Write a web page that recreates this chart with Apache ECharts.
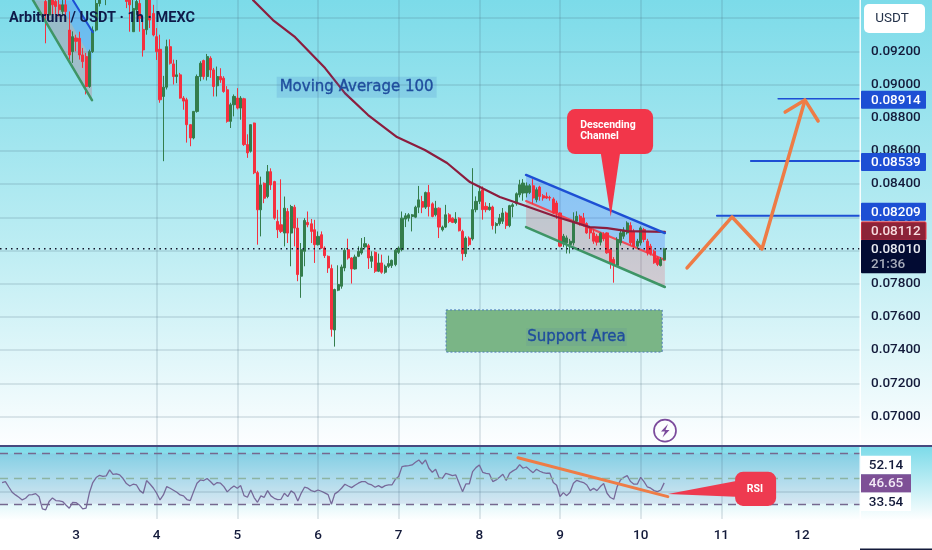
<!DOCTYPE html>
<html>
<head>
<meta charset="utf-8">
<script src="https://cdn.jsdelivr.net/npm/echarts@6/dist/echarts.min.js"></script>
<style>html,body{margin:0;padding:0;background:#fff}#c{width:932px;height:550px}</style>
</head>
<body>
<div id="c"></div>
<script>
// Prices are in units of 0.00001 USDT. Hours count from day 2, 00:00.
const firstCandleHour = 15;
// [open, close, low, high]; null = candle is above the visible range
const candles = [
[9500,9420,9248,9560],[9418,9510,9380,9560],[9520,9480,9400,9560],[9500,9470,9420,9530],[9480,9450,9410,9530],
[9440,9480,9410,9510],[9480,9440,9400,9520],[9328,9178,9150,9440],[9198,9288,9130,9320],[9280,9260,9200,9300],
[9278,9178,9150,9318],[9178,9138,9100,9220],[9168,8988,8940,9190],[8988,9198,8980,9210],[9198,9328,9190,9350],
[9328,9488,9320,9510],[9488,9530,9470,9570],null,[9530,9560,9478,9600],null,null,null,null,null,
[9600,9500,9460,9620],[9520,9480,9318,9560],[9318,9458,9318,9520],[9450,9500,9420,9540],[9488,9398,9318,9530],
[9332,9208,9168,9380],[9330,9510,9300,9560],[9520,9388,9340,9560],[9428,9298,9290,9480],[9288,9198,9148,9340],
[9212,8908,8890,9300],[8928,8984,8538,9052],[8984,9228,8970,9270],[9228,9128,9120,9272],[9124,9048,9000,9150],
[9048,9058,9008,9148],[9058,8918,8915,9070],[8918,8900,8848,8930],[8908,8758,8650,8920],[8758,8678,8628,8760],
[8678,8838,8670,8840],[8838,9048,8830,9060],[9048,9128,9020,9140],[9144,9048,9030,9150],[9048,9168,9024,9184],
[9158,9088,9040,9170],[9088,8988,8928,9100],[8992,9048,8928,9108],[9048,9028,9010,9098],[9038,8958,8950,9050],
[8968,8778,8770,8990],[8778,8878,8738,8890],[8878,8928,8808,8940],[8918,8858,8850,8978],[8858,8918,8788,8930],
[8914,8638,8630,8920],[8638,8588,8558,8700],[8598,8758,8590,8760],[8768,8468,8460,8770],
[8469,8245,8035,8480],[8245,8395,8085,8445],[8405,8315,8285,8410],[8325,8475,8315,8515],[8475,8395,8365,8495],
[8415,8195,8185,8420],[8175,8125,8075,8245],[8155,8115,8105,8429],[8105,8255,8025,8325],[8235,8105,8045,8255],
[8105,8265,7905,8275],[8261,8135,8025,8275],[8135,7855,7815,8195],[7845,8005,7715,8045],[7995,8181,7905,8195],
[8169,8155,8140,8235],[8161,8115,8045,8190],[8125,8035,7925,8185],[8035,8085,8030,8115],[8095,8015,8010,8115],
[8015,7969,7955,8025],[7965,7895,7865,7970],[7891,7525,7481,7915],[7521,7765,7421,7770],[7761,7795,7755,7911],
[7785,7901,7770,7915],[7895,8001,7875,8015],[8005,7955,7945,8071],[7955,7889,7801,7960],[7889,7961,7885,7975],
[7965,7995,7960,8025],[7985,8015,7975,8075],[8021,8041,8015,8081],[8029,7955,7889,8040],[7935,7965,7895,7995],
[7989,7875,7865,7995],[7875,7925,7870,7981],[7925,7869,7860,7975],[7869,7905,7860,7915],[7905,7921,7895,7969],
[7909,7941,7895,7945],[7915,8001,7905,8010],[7989,8015,7979,8025],[8005,8195,7995,8235],[8189,8209,8141,8225],
[8195,8215,8175,8225],[8205,8215,8115,8220],[8201,8261,8195,8270],[8261,8305,8225,8389],[8295,8261,8225,8329],
[8261,8349,8250,8355],[8349,8265,8205,8395],[8281,8205,8200,8290],[8215,8255,8205,8299],[8255,8141,8075,8260],
[8125,8141,8115,8150],[8141,8215,8135,8275],[8215,8175,8165,8225],[8195,8169,8165,8200],[8169,8189,8160,8231],
[8195,8119,8115,8200],[8115,7981,7939,8125],[7981,8075,7961,8085],[8075,8035,8025,8085],[8070,8246,8060,8496],
[8246,8296,8230,8326],[8296,8356,8280,8390],[8366,8246,8186,8386],[8266,8246,8230,8290],[8246,8262,8240,8286],
[8262,8150,8126,8270],[8150,8162,8102,8170],[8162,8196,8150,8220],[8176,8226,8160,8256],[8226,8150,8130,8235],
[8150,8270,8140,8275],[8265,8275,8200,8285],[8282,8342,8270,8350],[8336,8396,8320,8426],[8346,8406,8300,8430],
[8346,8390,8320,8410],[8350,8390,8340,8400],[8390,8316,8280,8430],[8306,8366,8290,8380],[8382,8326,8300,8390],
[8330,8316,8300,8340],[8326,8316,8310,8350],[8320,8316,8300,8330],[8310,8226,8220,8320],[8286,8226,8190,8300],
[8226,8026,8020,8230],[8040,8086,8020,8100],[8046,8076,7982,8090],[8036,8056,7982,8070],[8046,8176,8030,8230],
[8176,8206,8170,8236],[8206,8156,8150,8216],[8196,8156,8146,8226],[8162,8106,8100,8170],[8136,8106,8070,8146],
[8106,8056,8040,8130],[8086,8050,8030,8100],[8050,8104,8030,8110],[8096,8070,8056,8110],[8106,7986,7980,8110],
[8006,7926,7890,8016],[7946,7916,7806,7960],[7910,8066,7905,8080],[8046,8106,8030,8130],[8086,8122,8070,8140],
[8106,8166,8096,8176],[8150,8046,8030,8170],[8116,8026,8016,8130],[8026,8056,8010,8070],[8046,8136,8030,8146],
[8126,8066,8050,8136],[8056,7986,7970,8070],[8026,7982,7970,8040],[7996,7926,7920,8006],[7956,7916,7906,7966],
[7910,7946,7904,7960],[7946,8010,7940,8016]
];
const ma100 = [[76.7,9508],[82.6,9388],[89.2,9285],[98.1,9099],[104,8948],[110.9,8816],[119.5,8683],[127.8,8605],
[134.4,8527],[141.2,8412],[150.1,8322],[157,8274],[167.1,8202],[176.9,8141],[182,8135],[188,8117],[199.2,8112]];
// hourly RSI from hour 2
const firstRsiHour = 2;
const rsiValues = [46.9,47.7,43.4,39.2,37.1,35.2,33.1,34.4,37.1,37.3,38.1,35.7,26,25.2,31.8,34.7,32.6,32.3,31.8,29.1,
26.5,31.2,31,29.1,26,26.5,38.9,46.9,50.9,52.7,51.9,52.2,57,53.5,53.8,53,50.1,46.1,44.2,45.6,45,40.5,38.4,48.5,45.8,
42.6,38.4,33.1,37.1,43.7,42.4,40.8,39.2,37.1,36.3,33.4,32.6,39.7,46.4,49,48.5,50.1,47.7,45,46.9,46.4,43.7,39.5,42.1,
44.2,42.4,44.5,36.5,35.2,41,35,31.2,36.3,35.2,40.5,36.3,34.4,33.4,33.6,38.4,35.7,40.3,38.4,32.3,38.4,43.2,42.4,40.5,
39.7,41,40,38.7,37.3,29.6,37.9,39.7,42.4,45.6,44.2,42.9,44.8,46.4,47.7,47.7,45.8,45,43.2,44.5,42.9,44.5,45,45,49.5,
51.7,59.6,60.1,60.4,60.9,63,64.9,61.7,64.9,58.3,55.1,57.5,50.9,50.3,54.3,53.5,52.4,53,46.4,39.7,45.8,45.8,55.6,58.8,
60.9,55.1,54.3,53.8,47.7,49,51.1,53.5,48.5,54.3,56.2,57.7,61.2,58.3,59.3,57,54.8,57.5,55.9,54.8,54.3,54.3,46.9,44.8,
35.8,38.9,36.5,39.2,46.4,48.7,47.7,46.9,45,40.5,42.4,40.5,43.7,46.1,38.4,35,33.6,43.7,49,51.1,52.4,47.7,45.6,45.6,
51.1,47.7,43.4,42.4,40.5,39.7,41,46.65];

const lastPrice = 8010;
const dayHours = [24,48,72,96,120,144,168,192,216,240];
const dayLabels = ['3','4','5','6','7','8','9','10','11','12'];
const priceLevels = [[232.9,8914],[224.8,8539],[214.7,8209]];
const channelTop = [[157.9,8455],[199.2,8105]];
const channelMid = [[157.9,8298],[199.2,7943]];
const channelBottom = [[157.9,8141],[199.2,7780]];
const wedgeTop = [[23.1,9508],[29,9315]];
const wedgeMid = [[18.6,9508],[28.75,9147]];
const wedgeBottom = [[11.2,9508],[28.75,8906]];
const supportHours = [134.1,198.4];
const supportPrices = [7642,7388];
const arrowPath = [[205.8,7895],[219.2,8202],[228.1,8009],[240.9,8906]];
const arrowHead = [[235,8834],[240.9,8906],[244.8,8780]];
const rsiTrend = [[155.5,66.7],[200.1,35.7]];
const rsiLevels = [70,50,30];
const priceTagValues = [8914,8539,8209,8112,8010];
const rsiTagLabels = ['52.14','46.65','33.54'];
const rsiTagPositions = [60.9,46.2,31.7];

const minHour = 1.39, maxHour = 257.26;
const minPrice = 0.068, maxPrice = 0.09509;
const pr = v => v / 100000;
const ptsP = a => a.map(p => [p[0], pr(p[1])]);
const FONT = 'Roboto, "Liberation Sans", sans-serif';
const DJ = '"DejaVu Sans", sans-serif';
const UP = '#347d4c', DOWN = '#f5303f', BLUE = '#1d4fd4', GREEN = '#3e9566', ORANGE = '#ee7c46', INK = '#131a3a';

function line(name, data, color, width, extra, axis) {
  return Object.assign({
    name, type: 'line', data, symbol: 'none', silent: true, z: 5, clip: true,
    xAxisIndex: axis || 0, yAxisIndex: axis || 0,
    lineStyle: { color, width, cap: 'round', join: 'round' }
  }, extra || {});
}
function polygons(list, z) {
  return {
    type: 'custom', data: list.map((_, i) => i), z: z || 1, silent: true, clip: true,
    xAxisIndex: 0, yAxisIndex: 0, encode: { x: 0, y: 0 },
    renderItem: (params, api) => {
      const s = list[params.dataIndex];
      return { type: 'polygon', shape: { points: ptsP(s.pts).map(p => api.coord(p)) },
        style: { fill: s.fill, stroke: s.stroke || null, lineDash: s.dash || null, lineWidth: 1 } };
    }
  };
}
const blueFill = 'rgba(41,98,255,0.26)', redFill = 'rgba(242,54,69,0.2)';
const fillShapes = [
  { pts: [channelTop[0], channelTop[1], channelMid[1], channelMid[0]], fill: blueFill },
  { pts: [channelMid[0], channelMid[1], channelBottom[1], channelBottom[0]], fill: redFill },
  { pts: [wedgeTop[0], wedgeTop[1], wedgeMid[1], wedgeMid[0]], fill: blueFill },
  { pts: [wedgeMid[0], wedgeMid[1], wedgeBottom[1], wedgeBottom[0]], fill: redFill },
  { pts: [[supportHours[0], supportPrices[0]], [supportHours[1], supportPrices[0]], [supportHours[1], supportPrices[1]], [supportHours[0], supportPrices[1]]],
    fill: '#7ab586', stroke: '#4a79b8', dash: [2, 2] }
];

const tagStyles = {
  8914: { fill: BLUE, color: '#fff', shift: 1 }, 8539: { fill: BLUE, color: '#fff', shift: 1 }, 8209: { fill: BLUE, color: '#fff', shift: -4 },
  8112: { fill: '#8c2338', color: '#f8dde0', stroke: '#f23645', shift: -1 },
  8010: { fill: '#020b33', color: '#e8eaf0', sub: '21:36', shift: 0 }
};
const priceTags = {
  type: 'custom', data: priceTagValues.map((v, i) => [maxHour, pr(v)]), z: 30, silent: true, clip: false,
  xAxisIndex: 0, yAxisIndex: 0, encode: { x: 0, y: 1 },
  renderItem: (params, api) => {
    const v = priceTagValues[params.dataIndex], st = tagStyles[v];
    const c = api.coord([api.value(0), api.value(1)]);
    const cy = c[1] + st.shift, top = cy - 9, h = st.sub ? 33.5 : 18;
    const kids = [
      { type: 'rect', shape: { x: c[0] + 1, y: top, width: 65, height: h, r: 1 },
        style: { fill: st.fill, stroke: st.stroke || null, lineWidth: 1 } },
      { type: 'text', style: { x: c[0] + 11, y: cy + 0.5, text: pr(v).toFixed(5), fill: st.color,
        font: '500 13.5px ' + FONT, align: 'left', verticalAlign: 'middle' } }
    ];
    if (st.sub) kids.push({ type: 'text', style: { x: c[0] + 11, y: cy + 16, text: st.sub, fill: '#a8adbb',
      font: '500 13.5px ' + FONT, align: 'left', verticalAlign: 'middle' } });
    return { type: 'group', children: kids };
  }
};
const rsiTags = {
  type: 'custom', data: rsiTagLabels.map((_, i) => [maxHour, rsiTagPositions[i]]), z: 30, silent: true, clip: false,
  xAxisIndex: 1, yAxisIndex: 1, encode: { x: 0, y: 1 },
  renderItem: (params, api) => {
    const i = params.dataIndex, c = api.coord([api.value(0), api.value(1)]), mid = i === 1;
    return { type: 'group', children: [
      { type: 'rect', shape: { x: c[0] + 1, y: c[1] - 9.3, width: 50, height: 18.6 }, style: { fill: mid ? '#7e5096' : '#fff' } },
      { type: 'text', style: { x: c[0] + 26, y: c[1] + 0.5, text: rsiTagLabels[i], fill: mid ? '#f2e9f6' : INK,
        font: '500 13.5px ' + FONT, align: 'center', verticalAlign: 'middle' } }
    ] };
  }
};
const calloutChannel = { body: [[170.1, 8852], [195.7, 8581]], pointer: [[180.1, 8590], [183.1, 8203], [185.9, 8590]], text: 'Descending\nChannel', at: [174, 8722] };
const calloutRsi = { body: [[220.1, 55.6], [232.3, 28.3]], pointer: [[222, 49], [200.1, 37.8], [222, 35.4]], text: 'RSI', at: [226, 41.8] };
const callouts = {
  type: 'custom', data: [0], z: 20, silent: true, clip: false, xAxisIndex: 0, yAxisIndex: 0, encode: { x: 0, y: 0 },
  renderItem: (params, api) => {
    const c = calloutChannel;
    const a = api.coord([c.body[0][0], pr(c.body[0][1])]), b = api.coord([c.body[1][0], pr(c.body[1][1])]);
    const t = api.coord([c.at[0], pr(c.at[1])]);
    return { type: 'group', children: [
      { type: 'polygon', shape: { points: ptsP(c.pointer).map(p => api.coord(p)) }, style: { fill: '#f2364a' } },
      { type: 'rect', shape: { x: a[0], y: a[1], width: b[0] - a[0], height: b[1] - a[1], r: 8 }, style: { fill: '#f2364a' } },
      { type: 'text', style: { x: t[0], y: t[1], text: c.text, fill: '#fff', font: '700 10.5px Roboto', align: 'left', verticalAlign: 'middle', lineHeight: 11 } }
    ] };
  }
};
const calloutsRsi = {
  type: 'custom', data: [0], z: 20, silent: true, clip: false, xAxisIndex: 1, yAxisIndex: 1, encode: { x: 0, y: 0 },
  renderItem: (params, api) => {
    const c = calloutRsi;
    const a = api.coord(c.body[0]), b = api.coord(c.body[1]), t = api.coord(c.at);
    return { type: 'group', children: [
      { type: 'polygon', shape: { points: c.pointer.map(p => api.coord(p)) }, style: { fill: '#ee3a50' } },
      { type: 'rect', shape: { x: a[0], y: a[1], width: b[0] - a[0], height: b[1] - a[1], r: 8 }, style: { fill: '#ee3a50' } },
      { type: 'text', style: { x: t[0], y: t[1], text: c.text, fill: '#fff', font: '700 10.5px Roboto', align: 'center', verticalAlign: 'middle' } }
    ] };
  }
};
const noteLabels = [
  { text: 'Moving Average 100', at: [107.5, 8984], bg: 'rgba(50,110,190,0.16)', pad: [3, 3, 3, 3] },
  { text: 'Support Area', at: [172.9, 7479], bg: 'rgba(50,90,190,0.08)', pad: [2, 1, 1, 1] }
];
const notes = {
  type: 'custom', data: noteLabels.map((_, i) => i), z: 20, silent: true, clip: false, xAxisIndex: 0, yAxisIndex: 0, encode: { x: 0, y: 0 },
  renderItem: (params, api) => {
    const n = noteLabels[params.dataIndex], c = api.coord([n.at[0], pr(n.at[1])]);
    return { type: 'text', style: { x: c[0], y: c[1], text: n.text, fill: '#1f4d9d', stroke: '#1f4d9d', lineWidth: 0.35, font: '400 15px ' + DJ,
      align: 'center', verticalAlign: 'middle', backgroundColor: n.bg, padding: n.pad } };
  }
};

const splitColor = 'rgba(70,105,125,0.2)';
const dayTicks = { show: false, customValues: dayHours };
const option = {
  animation: false,
  backgroundColor: new echarts.graphic.LinearGradient(0, 0, 0, 1, [
    { offset: 0, color: '#7cdbe9' }, { offset: 0.45, color: '#bdedf3' }, { offset: 0.811, color: '#fdfeff' },
    { offset: 0.812, color: '#7cdbe9' }, { offset: 0.946, color: '#ffffff' }, { offset: 1, color: '#ffffff' }
  ]),
  grid: [
    { left: 0, top: 0, width: 860, height: 449.7 },
    { left: 0, top: 446, width: 860, height: 72.9 }
  ],
  xAxis: [
    { type: 'value', gridIndex: 0, min: minHour, max: maxHour,
      axisLine: { show: false }, axisTick: dayTicks, axisLabel: { show: false },
      splitLine: { show: true, showMinLine: false, showMaxLine: false, lineStyle: { color: splitColor, width: 1.5 } } },
    { type: 'value', gridIndex: 1, min: minHour, max: maxHour,
      axisLine: { show: false }, axisTick: dayTicks,
      axisLabel: { margin: 10, color: INK, fontSize: 13.5, fontFamily: 'Roboto', fontWeight: 500, customValues: dayHours,
        formatter: v => dayLabels[dayHours.indexOf(v)] || '' },
      splitLine: { show: true, showMinLine: false, showMaxLine: false, lineStyle: { color: splitColor, width: 1.5 } } }
  ],
  yAxis: [
    { type: 'value', gridIndex: 0, position: 'right', min: minPrice, max: maxPrice, interval: 0.002,
      axisLine: { show: false }, axisTick: { show: false },
      axisLabel: { margin: 11, color: INK, fontSize: 13.5, fontFamily: 'Roboto', fontWeight: 500, padding: [3, 0, 0, 0],
        formatter: v => (v < 0.0695 || v > 0.0945) ? '' : v.toFixed(5) },
      splitLine: { show: true, showMinLine: false, showMaxLine: false, lineStyle: { color: splitColor, width: 1.5 } } },
    { type: 'value', gridIndex: 1, min: 18, max: 76, show: false, splitLine: { show: false } }
  ],
  series: [
    polygons(fillShapes, 1),
    {
      type: 'candlestick', xAxisIndex: 0, yAxisIndex: 0, z: 3, silent: true, barWidth: 2.6, clip: true,
      data: candles.map((r, k) => r ? [firstCandleHour + k, pr(r[0]), pr(r[1]), pr(r[2]), pr(r[3])] : null).filter(Boolean),
      encode: { x: 0, y: [1, 2, 3, 4] },
      itemStyle: { color: UP, color0: DOWN, borderColor: UP, borderColor0: DOWN, borderWidth: 1 }
    },
    line('MA 100', ptsP(ma100), '#8c1d3e', 2.2, { z: 4 }),
    line('Channel mid', ptsP(channelMid), '#ef4a58', 2, { z: 2 }),
    line('Channel top', ptsP(channelTop), BLUE, 2.5),
    line('Channel bottom', ptsP(channelBottom), GREEN, 2.5),
    line('Wedge top', ptsP(wedgeTop), BLUE, 2),
    line('Wedge bottom', ptsP(wedgeBottom), GREEN, 2.5),
    line('Last price', [[minHour, pr(lastPrice)], [maxHour, pr(lastPrice)]], '#10152b', 1.5,
      { lineStyle: { color: '#10152b', width: 1.5, type: [1.5, 4] }, z: 6 }),
    ...priceLevels.map((l, i) => line('Level ' + i, [[l[0], pr(l[1])], [maxHour, pr(l[1])]], BLUE, i === 0 ? 1.5 : 2)),
    line('Arrow', ptsP(arrowPath), ORANGE, 3.5, { z: 7 }),
    line('Arrow head', ptsP(arrowHead), ORANGE, 3.5, { z: 7 }),
    {
      name: 'RSI', type: 'line', xAxisIndex: 1, yAxisIndex: 1, symbol: 'none', silent: true, z: 4,
      data: rsiValues.map((v, k) => [firstRsiHour + k, v]),
      lineStyle: { color: '#77699a', width: 1.3 },
      markArea: { silent: true, itemStyle: { color: 'rgba(100,70,170,0.09)' }, data: [[{ yAxis: 70 }, { yAxis: 30 }]] },
      markLine: { silent: true, symbol: 'none', label: { show: false },
        data: [
          ...rsiLevels.map((v, i) => ({ yAxis: v, lineStyle: { color: i === 1 ? '#8cb4a2' : '#75688f', type: [8, 6], width: 1.4 } })),
          { yAxis: 39.7, lineStyle: { color: splitColor, type: 'solid', width: 1.5 } }
        ] }
    },
    line('RSI trend', rsiTrend, ORANGE, 3, { z: 7 }, 1),
    callouts, calloutsRsi, notes, priceTags, rsiTags
  ],
  graphic: [
    { type: 'rect', z: 90, shape: { x: 859.5, y: 0, width: 1.5, height: 550 }, style: { fill: 'rgba(255,255,255,0.9)' } },
    { type: 'rect', z: 91, shape: { x: 0, y: 445, width: 932, height: 2 }, style: { fill: '#47497f' } },
    { type: 'rect', z: 91, shape: { x: 860, y: 548.5, width: 72, height: 1.5 }, style: { fill: '#131a3a' } },
    { type: 'rect', z: 95, shape: { x: 864, y: 4, width: 61, height: 29, r: 5 }, style: { fill: '#fff' } },
    { type: 'text', z: 96, style: { x: 892, y: 18.5, text: 'USDT', fill: '#24324a', font: '400 13.5px ' + FONT, align: 'center', verticalAlign: 'middle' } },
    { type: 'text', z: 96, style: { x: 9, y: 18, text: 'Arbitrum / USDT · 1h · MEXC', fill: '#0f1b4a', font: '700 14.5px ' + FONT, align: 'left', verticalAlign: 'middle' } },
    { type: 'circle', z: 96, shape: { cx: 665, cy: 430.7, r: 11 }, style: { fill: '#fbfdfe', stroke: '#7b4a9c', lineWidth: 1.7 } },
    { type: 'polygon', z: 97, shape: { points: [[668, 424], [661, 431.5], [665, 431.5], [662.5, 437.5], [669.5, 430], [665.5, 430]] }, style: { fill: '#7b4a9c' } }
  ]
};
echarts.init(document.getElementById('c')).setOption(option);
</script>
</body>
</html>
